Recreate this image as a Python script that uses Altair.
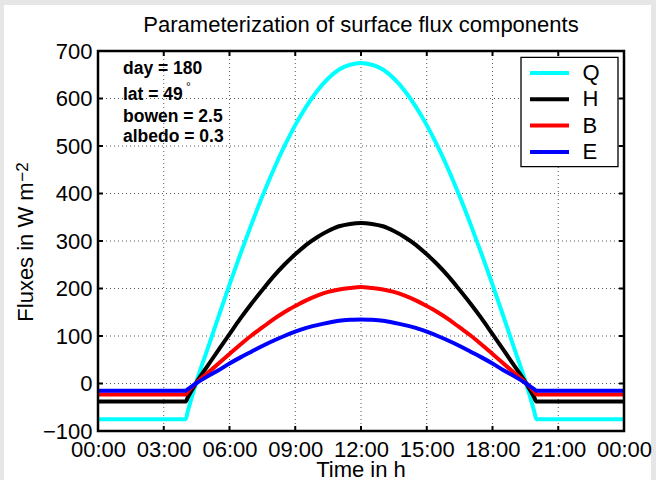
import altair as alt
import pandas as pd

# ---- data ----
hours = [0, 4, 4.1, 4.5, 5, 5.5, 6, 6.5, 7, 7.5, 8, 8.5, 9, 9.5, 10, 10.5, 11, 11.5, 12,
         12.5, 13, 13.5, 14, 14.5, 15, 15.5, 16, 16.5, 17, 17.5, 18, 18.5, 19, 19.5, 19.9, 20, 24]
Q = [-75, -75, -58, 5, 73, 141, 208, 273, 335, 394, 449, 499, 544, 583, 616, 642, 661, 671, 675,
     671, 661, 642, 616, 583, 544, 499, 449, 394, 335, 273, 208, 141, 73, 5, -58, -75, -75]
H = [-38, -38, -29, 3, 37, 71, 104, 137, 168, 197, 225, 250, 272, 292, 308, 321, 331, 336, 338,
     336, 331, 321, 308, 292, 272, 250, 225, 197, 168, 137, 104, 71, 37, 3, -29, -38, -38]
B = [-23, -23, -17, 2, 22, 42, 62, 82, 101, 118, 135, 150, 163, 175, 185, 193, 198, 201, 203,
     201, 198, 193, 185, 175, 163, 150, 135, 118, 101, 82, 62, 42, 22, 2, -17, -23, -23]
E = [-15, -15, -12, 1, 15, 28, 42, 55, 67, 79, 90, 100, 109, 117, 123, 128, 132, 134, 135,
     134, 132, 128, 123, 117, 109, 100, 90, 79, 67, 55, 42, 28, 15, 1, -12, -15, -15]
series_names = ["Q", "H", "B", "E"]
series_colors = ["#00ffff", "#000000", "#ff0000", "#0000ff"]
x_ticks = [0, 3, 6, 9, 12, 15, 18, 21, 24]
y_ticks = [-100, 0, 100, 200, 300, 400, 500, 600, 700]
annotations = ["day = 180", "lat = 49", "bowen = 2.5", "albedo = 0.3"]
title_text = "Parameterization of surface flux components"
xlabel_text = "Time in h"
ylabel_text = "Fluxes in W m"
ylabel_sup = "\u22122"

FONT = "Liberation Sans"
W, HGT = 526, 380

rows = []
for name, vals in zip(series_names, [Q, H, B, E]):
    for t, v in zip(hours, vals):
        rows.append({"t": t, "v": v, "s": name})
df = pd.DataFrame(rows)
xt = pd.DataFrame({"t": x_ticks})
yt = pd.DataFrame({"v": y_ticks})
one = pd.DataFrame({"a": [0]})

xs = alt.Scale(domain=[0, 24], nice=False, zero=False)
ys = alt.Scale(domain=[-100, 700], nice=False, zero=False)
xaxis = alt.Axis(
    values=x_ticks, title=None, grid=False, ticks=False, domain=False,
    labelExpr="(datum.value % 24 < 10 ? '0' : '') + (datum.value % 24) + ':00'",
    labelFont=FONT, labelFontSize=22, labelColor="black", labelPadding=8,
    labelFlush=False, labelOverlap=False, zindex=1)
yaxis = alt.Axis(
    values=y_ticks, title=None, grid=False, ticks=False, domain=False,
    labelFont=FONT, labelFontSize=22, labelColor="black", labelPadding=6,
    labelOverlap=False, zindex=1)
X = alt.X("t:Q", scale=xs, axis=xaxis)
Y = alt.Y("v:Q", scale=ys, axis=yaxis)

bg = alt.Chart(one).mark_rect(fill="white", clip=False).encode(
    x=alt.value(-94), x2=alt.value(553), y=alt.value(-46), y2=alt.value(440))

vgrid = alt.Chart(xt).mark_rule(color="#555", strokeWidth=1, strokeDash=[1, 3]).encode(
    x=X, y=alt.value(0), y2=alt.value(HGT))
hgrid = alt.Chart(yt).mark_rule(color="#555", strokeWidth=1, strokeDash=[1, 3]).encode(
    y=Y, x=alt.value(0), x2=alt.value(W))

legend_box = alt.Chart(one).mark_rect(fill="white", stroke="black", strokeWidth=1.3).encode(
    x=alt.value(423), x2=alt.value(520), y=alt.value(6.3), y2=alt.value(115.7))

lines = alt.Chart(df).mark_line(strokeWidth=4, clip=True, interpolate="monotone").encode(
    x=X, y=Y,
    color=alt.Color("s:N", scale=alt.Scale(domain=series_names, range=series_colors),
                    sort=series_names,
                    legend=alt.Legend(
                        title=None, orient="none", legendX=423, legendY=6,
                        symbolType="M-2.786,0H2.786", symbolSize=196, symbolStrokeWidth=4,
                        symbolOffset=12.5, labelOffset=22, labelFont=FONT, labelFontSize=22,
                        labelColor="black", padding=5, rowPadding=4.3)),
)

tick_b = alt.Chart(xt).mark_rule(color="black", strokeWidth=2).encode(
    x=X, y=alt.value(HGT), y2=alt.value(HGT - 5))
tick_t = alt.Chart(xt).mark_rule(color="black", strokeWidth=2).encode(
    x=X, y=alt.value(0), y2=alt.value(5))
tick_l = alt.Chart(yt).mark_rule(color="black", strokeWidth=2).encode(
    y=Y, x=alt.value(0), x2=alt.value(5))
tick_r = alt.Chart(yt).mark_rule(color="black", strokeWidth=2).encode(
    y=Y, x=alt.value(W - 5), x2=alt.value(W))

frame = alt.Chart(one).mark_rect(filled=False, stroke="black", strokeWidth=2.5).encode(
    x=alt.value(0), x2=alt.value(W), y=alt.value(0), y2=alt.value(HGT))

ann_y = [23.3, 49, 70.7, 90.7]
ann_layers = [
    alt.Chart(one).mark_text(text=txt, align="left", baseline="alphabetic", font=FONT,
                             fontSize=17.5, fontWeight="bold", color="black").encode(
        x=alt.value(25), y=alt.value(yy))
    for txt, yy in zip(annotations, ann_y)
]
deg = alt.Chart(one).mark_text(text="\u00b0", align="center", baseline="alphabetic",
                               font=FONT, fontSize=12, color="black").encode(
    x=alt.value(90.5), y=alt.value(39.5))

title = alt.Chart(one).mark_text(text=title_text, align="center", baseline="alphabetic",
                                 font=FONT, fontSize=22, color="black").encode(
    x=alt.value(W / 2), y=alt.value(-19.3))
xlabel = alt.Chart(one).mark_text(text=xlabel_text, align="center", baseline="alphabetic",
                                  font=FONT, fontSize=22, color="black").encode(
    x=alt.value(W / 2), y=alt.value(426))
ylabel = alt.Chart(one).mark_text(text=ylabel_text, align="center", baseline="alphabetic",
                                  font=FONT, fontSize=22, color="black", angle=270).encode(
    x=alt.value(-64.7), y=alt.value(201))
ysup = alt.Chart(one).mark_text(text=ylabel_sup, align="center", baseline="alphabetic",
                                font=FONT, fontSize=17, color="black", angle=270).encode(
    x=alt.value(-70), y=alt.value(121))

chart = alt.layer(
    bg, vgrid, hgrid, legend_box, lines, tick_b, tick_t, tick_l, tick_r, frame,
    *ann_layers, deg, title, xlabel, ylabel, ysup
).properties(
    width=W, height=HGT,
    autosize=alt.AutoSizeParams(type="none"),
    padding={"left": 98, "top": 51, "right": 32, "bottom": 49},
    background="#e6e6e6",
).configure_view(stroke=None)

chart.save("out.html", embed_options={"renderer": "svg", "actions": False})
